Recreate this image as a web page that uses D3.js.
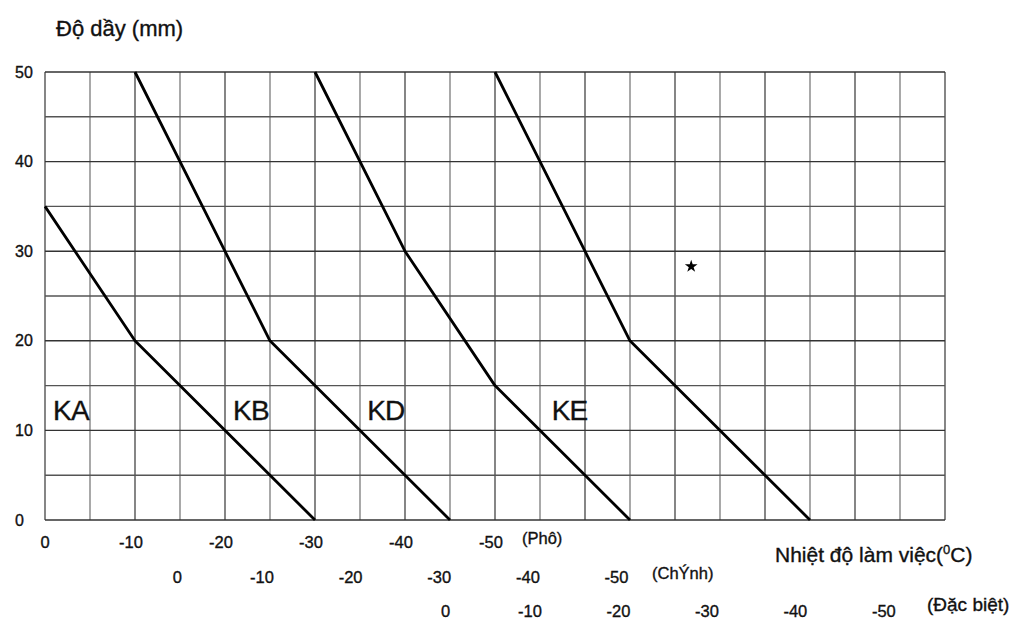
<!DOCTYPE html>
<html><head><meta charset="utf-8">
<script src="https://cdn.jsdelivr.net/npm/d3@7"></script>
<style>
html,body{margin:0;padding:0;background:#fff;}
svg text{font-family:"Liberation Sans",Arial,sans-serif;fill:#111;stroke:#111;stroke-width:0.35px;}
</style></head>
<body>
<svg id="chart" width="1027" height="620"></svg>
<script>
// ---- data ----
const seriesNames = ["KA", "KB", "KD", "KE"];
const kaTemp = [0, -10, -30];          const kaThick = [35, 20, 0];
const kbTemp = [-10, -25, -45];        const kbThick = [50, 20, 0];
const kdTemp = [-30, -40, -50, -65];   const kdThick = [50, 30, 15, 0];
const keTemp = [-50, -60, -65, -85];   const keThick = [50, 30, 20, 0];
const yTicks = [0, 10, 20, 30, 40, 50];
const tempTicks = [0, -10, -20, -30, -40, -50];
const rowNames = ["(Phô)", "(ChÝnh)", "(Đặc biệt)"];
const rowOffsets = [0, -14.7, -44.5];  // start of each grade's scale on the common axis
const yTitle = "Độ dầy (mm)";
const xTitle = "Nhiệt độ làm việc(";

const svg = d3.select("#chart");
const x = d3.scaleLinear().domain([0, -100]).range([45, 945]);
const y = d3.scaleLinear().domain([0, 50]).range([520, 72]);

// grid
const gridX = d3.range(0, -101, -5);
const gridY = d3.range(0, 51, 5);
const g = svg.append("g");
g.selectAll("line.v").data(gridX).join("line")
  .attr("x1", d => x(d)).attr("x2", d => x(d))
  .attr("y1", y(0)).attr("y2", y(50))
  .attr("stroke", (d,i) => i % 2 ? "#7a7a7a" : "#444")
  .attr("stroke-width", 1.3);
g.selectAll("line.h").data(gridY).join("line")
  .attr("x1", x(0)).attr("x2", x(-100))
  .attr("y1", d => y(d)).attr("y2", d => y(d))
  .attr("stroke", (d,i) => i % 2 ? "#555" : "#333")
  .attr("stroke-width", 1.4);

// series lines
const series = [
  {name: "KA", t: kaTemp, h: kaThick},
  {name: "KB", t: kbTemp, h: kbThick},
  {name: "KD", t: kdTemp, h: kdThick},
  {name: "KE", t: keTemp, h: keThick}
];
const line = d3.line().x(d => x(d[0])).y(d => y(d[1]));
svg.selectAll("path.s").data(series).join("path")
  .attr("d", s => line(s.t.map((t, i) => [t, s.h[i]])))
  .attr("fill", "none").attr("stroke", "#000").attr("stroke-width", 2.8)
  .attr("stroke-linejoin", "round");

// series labels
const labelTemp = [-0.9, -20.9, -35.8, -56.3];
svg.selectAll("text.lab").data(seriesNames).join("text")
  .attr("x", (d, i) => x(labelTemp[i])).attr("y", y(11.2))
  .attr("font-size", 28).attr("letter-spacing", -0.8).text(d => d);

// star marker
svg.append("path").attr("d", d3.symbol(d3.symbolStar, 50)())
  .attr("transform", `translate(${x(-71.8)},${y(28.3)})`).attr("fill", "#000");

// y axis labels
svg.selectAll("text.yt").data(yTicks).join("text")
  .attr("x", 15).attr("y", d => y(d) + 5.5)
  .attr("font-size", 16).text(d => d);
svg.append("text").attr("x", 56).attr("y", 36).attr("font-size", 22).text(yTitle);

// x axis label rows
const rowBase = [548, 583, 617];
const rowScale = [1.0, 0.985, 0.983];
rowOffsets.forEach((off, r) => {
  svg.selectAll("text.r" + r).data(tempTicks).join("text")
    .attr("x", d => x(off + d * rowScale[r]) - (d === 0 ? 0 : 4))
    .attr("y", rowBase[r]).attr("text-anchor", "middle")
    .attr("font-size", 16.5).text(d => d);
});
svg.append("text").attr("x", 522).attr("y", 544).attr("font-size", 16.5).text(rowNames[0]);
svg.append("text").attr("x", 652).attr("y", 579).attr("font-size", 16.5).text(rowNames[1]);
svg.append("text").attr("x", 927).attr("y", 611).attr("font-size", 19).text(rowNames[2]);

const xt = svg.append("text").attr("x", 775).attr("y", 562).attr("font-size", 21);
xt.append("tspan").text(xTitle);
xt.append("tspan").attr("font-size", 13).attr("dy", -8).text("0");
xt.append("tspan").attr("dy", 8).text("C)");
</script>
</body></html>
